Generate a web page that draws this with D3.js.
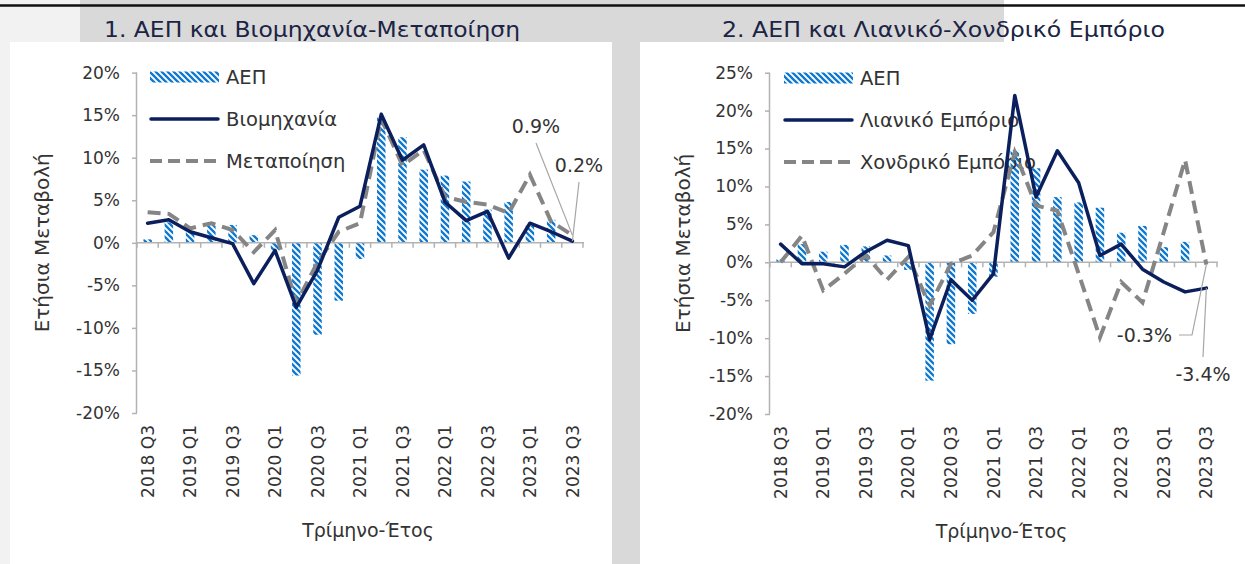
<!DOCTYPE html>
<html><head><meta charset="utf-8">
<script src="https://cdn.jsdelivr.net/npm/d3@7"></script>
<style>
body{margin:0;background:#fff}
svg{display:block}
text{font-family:"DejaVu Sans",sans-serif;fill:#333}
</style>
</head><body>
<svg id="c" width="1245" height="564"></svg>
<script>
// ---------- DATA ----------
const quarters = ["2018 Q3","2018 Q4","2019 Q1","2019 Q2","2019 Q3","2019 Q4","2020 Q1","2020 Q2","2020 Q3","2020 Q4",
  "2021 Q1","2021 Q2","2021 Q3","2021 Q4","2022 Q1","2022 Q2","2022 Q3","2022 Q4","2023 Q1","2023 Q2","2023 Q3"];
const tickQuarters = ["2018 Q3","2019 Q1","2019 Q3","2020 Q1","2020 Q3","2021 Q1","2021 Q3","2022 Q1","2022 Q3","2023 Q1","2023 Q3"];
const yTicksLeft = [-20,-15,-10,-5,0,5,10,15,20];
const yTicksRight = [-20,-15,-10,-5,0,5,10,15,20,25];
const gdp = [0.4,2.4,1.4,2.3,2.1,0.9,-1.0,-15.6,-10.8,-6.8,-1.9,14.8,12.4,8.6,7.9,7.2,3.9,4.8,2.0,2.7,null];
const industry = [2.3,2.7,1.3,0.6,-0.1,-4.8,-0.9,-7.6,-3.2,3.0,4.3,15.1,9.7,11.5,4.8,2.6,3.7,-1.8,2.3,1.3,0.2];
const manufacturing = [3.6,3.4,1.7,2.3,1.5,-1.1,1.5,-7.1,-2.3,1.3,2.3,14.6,9.1,10.9,5.4,4.8,4.5,3.5,8.0,2.5,0.9];
const retail = [2.4,-0.2,-0.2,-0.6,1.4,2.9,2.2,-10.2,-2.3,-5.0,-1.5,22.0,8.6,14.7,10.5,0.9,2.4,-0.9,-2.6,-3.9,-3.4];
const wholesale = [0.0,3.5,-3.7,-1.5,0.9,-2.3,0.7,-5.7,-0.2,0.9,4.0,14.5,7.5,6.8,-1.5,-9.9,-2.6,-5.3,4.0,13.5,-0.3];
const titles = ["1. ΑΕΠ και Βιομηχανία-Μεταποίηση","2. ΑΕΠ και Λιανικό-Χονδρικό Εμπόριο"];
const legendLeft = ["ΑΕΠ","Βιομηχανία","Μεταποίηση"];
const legendRight = ["ΑΕΠ","Λιανικό Εμπόριο","Χονδρικό Εμπόριο"];
const yTitle = "Ετήσια Μεταβολή";
const xTitle = "Τρίμηνο-Έτος";

// ---------- STYLE ----------
const NAVY = "#0b1f5c", GREY = "#858585", BLUE = "#0d78d0", AXIS = "#b3b3b3";

const svg = d3.select("#c");
// backgrounds
svg.append("rect").attr("x",0).attr("y",0).attr("width",1245).attr("height",564).attr("fill","#fff");
svg.append("rect").attr("x",0).attr("y",0).attr("width",80).attr("height",42).attr("fill","#f2f2f2");
svg.append("rect").attr("x",0).attr("y",42).attr("width",10).attr("height",522).attr("fill","#f2f2f2");
svg.append("rect").attr("x",80).attr("y",0).attr("width",924).attr("height",42).attr("fill","#d9d9d9");
svg.append("rect").attr("x",612).attr("y",0).attr("width",28).attr("height",564).attr("fill","#d9d9d9");
svg.append("line").attr("x1",0).attr("x2",1245).attr("y1",5.5).attr("y2",5.5).attr("stroke","#111").attr("stroke-width",2.5);

svg.append("text").attr("x",104).attr("y",37).attr("font-size",21).attr("textLength",416)
  .attr("lengthAdjust","spacingAndGlyphs").style("fill","#1c2445").text(titles[0]);
svg.append("text").attr("x",722).attr("y",37).attr("font-size",21).attr("textLength",443)
  .attr("lengthAdjust","spacingAndGlyphs").style("fill","#1c2445").text(titles[1]);

// pattern
const defs = svg.append("defs");
const pat = defs.append("pattern").attr("id","diag").attr("patternUnits","userSpaceOnUse")
  .attr("width",6).attr("height",6);
pat.append("path").attr("d","M-1,-1 L7,7 M-4,2 L2,8 M2,-4 L8,2").attr("stroke",BLUE).attr("stroke-width",2.3);

function drawChart(cfg){
  const g = svg.append("g");
  const x = d3.scaleBand().domain(quarters).range([cfg.x0,cfg.x1]).padding(0);
  const y = d3.scaleLinear().domain(cfg.domain).range([cfg.yBot,cfg.yTop]);
  const cx = d => x(d) + x.bandwidth()/2;
  const bw = x.bandwidth()*0.4;

  // y axis
  const ya = g.append("g").attr("transform",`translate(${cfg.x0},0)`)
    .call(d3.axisLeft(y).tickValues(cfg.yTicks).tickSize(5).tickPadding(12).tickFormat(d=>d+"%"));
  ya.select(".domain").attr("stroke",AXIS).attr("stroke-width",1.5).attr("d",`M-0.5,${cfg.yTop}V${cfg.yBot}`);
  ya.selectAll(".tick line").attr("stroke",AXIS).attr("stroke-width",1.5);
  ya.selectAll(".tick text").attr("font-size",17).attr("font-family","DejaVu Sans").style("fill","#333");

  // bars
  g.append("g").selectAll("rect").data(quarters.map((q,i)=>({q,v:gdp[i]})).filter(d=>d.v!=null))
    .join("rect")
    .attr("x",d=>cx(d.q)-bw/2).attr("width",bw)
    .attr("y",d=>y(Math.max(0,d.v))).attr("height",d=>Math.abs(y(d.v)-y(0)))
    .attr("fill","url(#diag)");

  // legend
  const L = cfg.legend;
  g.append("rect").attr("x",L.x).attr("y",L.y-5.5).attr("width",69).attr("height",11).attr("fill","url(#diag)");
  g.append("line").attr("x1",L.x+1).attr("x2",L.x+68).attr("y1",L.y+42).attr("y2",L.y+42)
    .attr("stroke",NAVY).attr("stroke-width",3.5).attr("stroke-linecap","round");
  g.append("line").attr("x1",L.x).attr("x2",L.x+69).attr("y1",L.y+84).attr("y2",L.y+84)
    .attr("stroke",GREY).attr("stroke-width",4).attr("stroke-dasharray","12,6");
  cfg.legendLabels.forEach((t,i)=>{
    g.append("text").attr("x",L.x+76).attr("y",L.y+42*i).attr("dy","0.36em").attr("font-size",19.5).text(t);
  });

  // x axis
  const xa = g.append("g").attr("transform",`translate(0,${y(0)})`);
  xa.append("line").attr("x1",cfg.x0).attr("x2",cfg.x1+1).attr("stroke",AXIS).attr("stroke-width",1.5);
  xa.selectAll("line.t").data(d3.range(quarters.length+1)).join("line").attr("class","t")
    .attr("x1",i=>cfg.x0+i*x.step()).attr("x2",i=>cfg.x0+i*x.step()).attr("y1",0).attr("y2",5)
    .attr("stroke",AXIS).attr("stroke-width",1.5);

  g.selectAll("text.xl").data(tickQuarters).join("text").attr("class","xl")
    .attr("transform",d=>`translate(${cx(d)},${cfg.yBot+12}) rotate(-90)`)
    .attr("text-anchor","end").attr("dy","0.36em").attr("font-size",17).text(d=>d);

  // lines
  const line = d3.line().defined(d=>d.v!=null).x(d=>cx(d.q)).y(d=>y(d.v));
  g.append("path").datum(quarters.map((q,i)=>({q,v:cfg.dashed[i]})))
    .attr("d",line).attr("fill","none").attr("stroke",GREY).attr("stroke-width",4)
    .attr("stroke-dasharray","13,7");
  g.append("path").datum(quarters.map((q,i)=>({q,v:cfg.solid[i]})))
    .attr("d",line).attr("fill","none").attr("stroke",NAVY).attr("stroke-width",3.5)
    .attr("stroke-linejoin","round").attr("stroke-linecap","round");

  // titles
  g.append("text").attr("x",(cfg.x0+cfg.x1)/2+8).attr("y",cfg.yBot+124).attr("text-anchor","middle")
    .attr("font-size",19).text(xTitle);
  g.append("text").attr("transform",`translate(${cfg.yTitleX},${(cfg.yTop+cfg.yBot)/2}) rotate(-90)`)
    .attr("text-anchor","middle").attr("dy","0.36em").attr("font-size",20).text(yTitle);

  // annotations
  const last = quarters[quarters.length-1];
  cfg.annotations.forEach(a=>{
    const v = a.series[a.series.length-1];
    const px = cx(last), py = y(v);
    g.append("path").attr("d",`M${a.path}L${px},${py}`).attr("fill","none").attr("stroke","#a6a6a6").attr("stroke-width",1.2);
    g.append("text").attr("x",a.tx).attr("y",a.ty).attr("dy","0.36em").attr("text-anchor",a.anchor)
      .attr("font-size",19).style("fill","#333").text(v.toFixed(1)+"%");
  });
}

drawChart({x0:137,x1:583,yTop:72.6,yBot:413,domain:[-20,20],yTicks:yTicksLeft,
  legend:{x:150,y:77},legendLabels:legendLeft,solid:industry,dashed:manufacturing,yTitleX:42,
  annotations:[
    {series:manufacturing,tx:536,ty:126,anchor:"middle",path:"536,143"},
    {series:industry,tx:579,ty:165,anchor:"middle",path:"579,182"}
  ]});
drawChart({x0:770,x1:1217,yTop:72.7,yBot:414,domain:[-20,25],yTicks:yTicksRight,
  legend:{x:784,y:78},legendLabels:legendRight,solid:retail,dashed:wholesale,yTitleX:683,
  annotations:[
    {series:wholesale,tx:1172,ty:335,anchor:"end",path:"1179,335L1192,335"},
    {series:retail,tx:1203,ty:374,anchor:"middle",path:"1203,357"}
  ]});
</script>
</body></html>
